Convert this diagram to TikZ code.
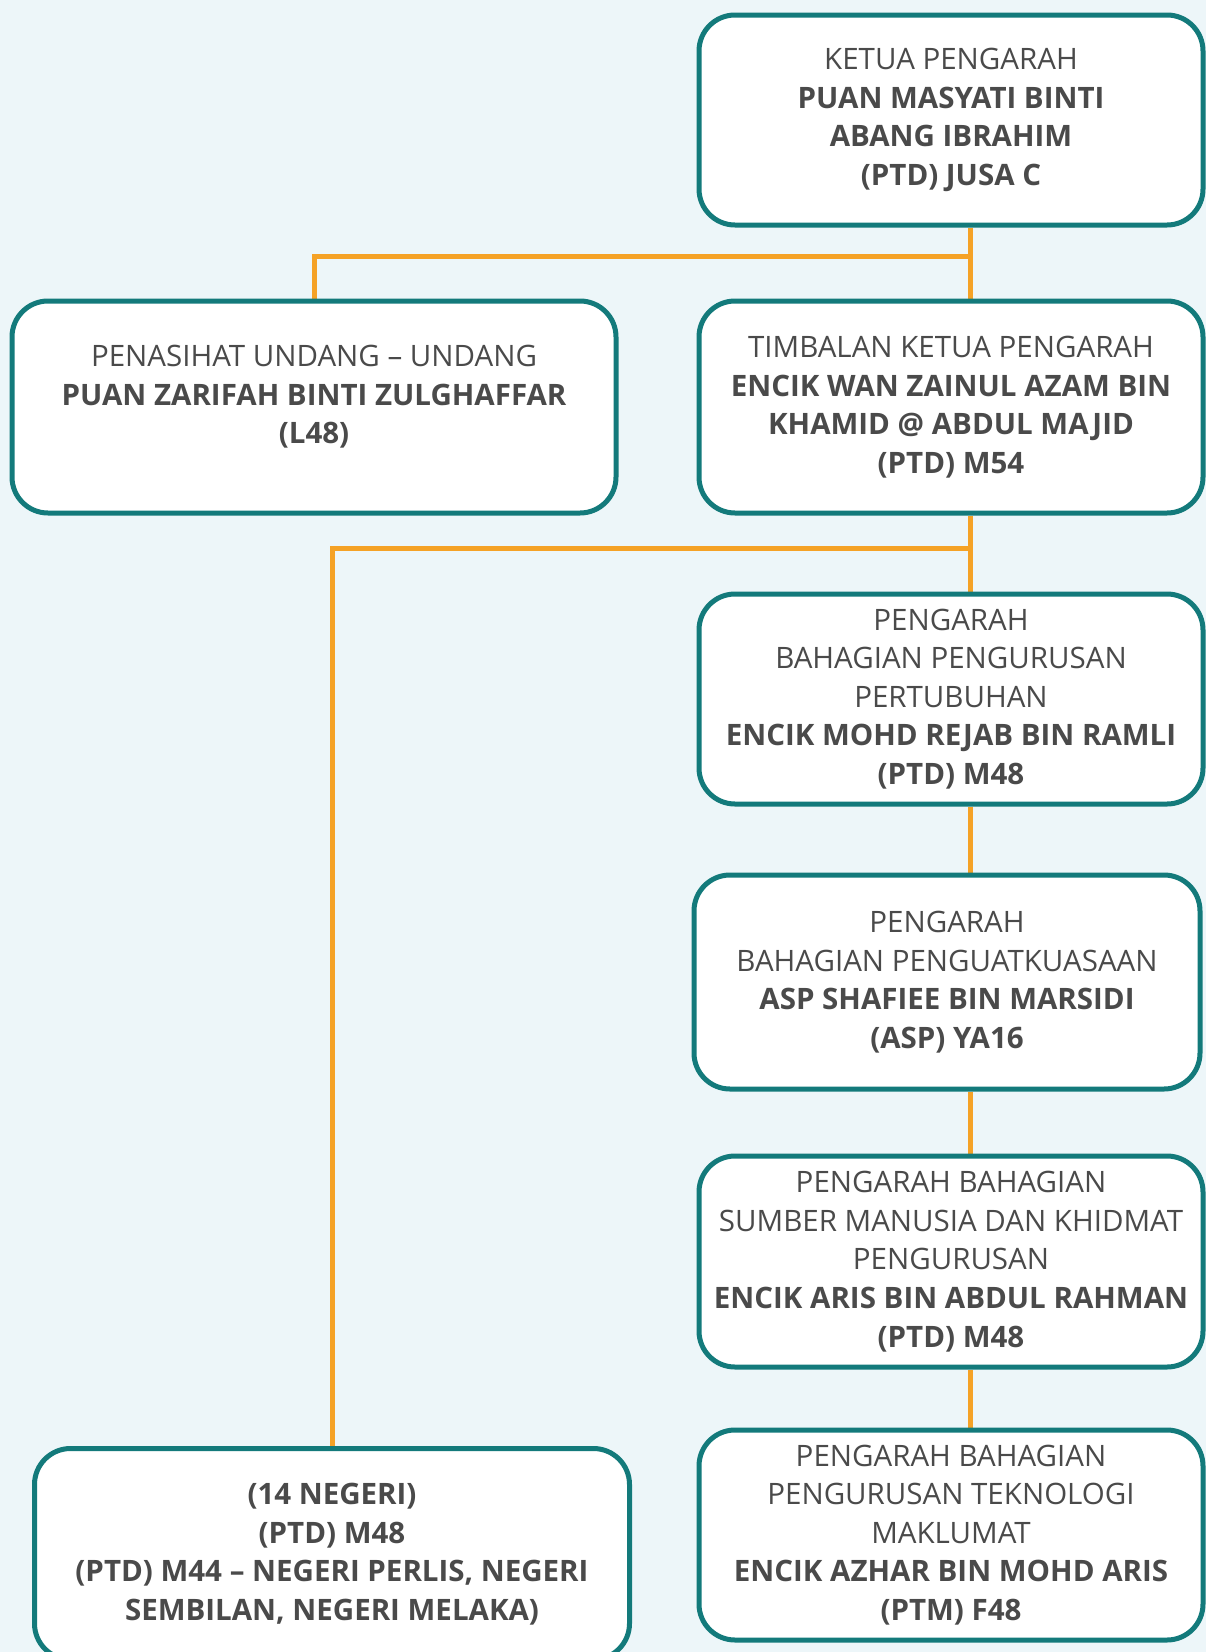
\documentclass[tikz,border=0pt]{standalone}
\usepackage{fontspec}
\setmainfont{Open Sans}
\usetikzlibrary{backgrounds}
\definecolor{bgblue}{HTML}{EDF6F9}
\definecolor{boxteal}{HTML}{137A7B}
\definecolor{lineorange}{HTML}{F5A226}
\definecolor{txtgray}{HTML}{4A4A4A}

\begin{document}
\begin{tikzpicture}[x=1pt,y=-1pt,
  post/.style={draw=boxteal,line width=5pt,fill=white,rounded corners=36pt,
    minimum width=504pt,minimum height=210pt,align=center,text=txtgray,
    inner sep=0pt,font=\fontsize{29.5}{38.6}\selectfont},
  link/.style={draw=lineorange,line width=5pt}]
\useasboundingbox (0,0) rectangle (1206,1652);

% Boxes
\node[post] (kp) at (951,120) {KETUA PENGARAH\\\textbf{PUAN MASYATI BINTI}\\\textbf{ABANG IBRAHIM}\\\textbf{(PTD) JUSA C}};
\node[post,minimum width=604pt,minimum height=212pt,text depth=25pt] (pen) at (314,407) {PENASIHAT UNDANG – UNDANG\\\textbf{PUAN ZARIFAH BINTI ZULGHAFFAR}\\\textbf{(L48)}};
\node[post,minimum height=212pt] (tkp) at (951,407) {TIMBALAN KETUA PENGARAH\\\textbf{ENCIK WAN ZAINUL AZAM BIN}\\\textbf{KHAMID @ ABDUL MAJID}\\\textbf{(PTD) M54}};
\node[post] (bpp) at (951,699) {PENGARAH\\BAHAGIAN PENGURUSAN\\PERTUBUHAN\\\textbf{ENCIK MOHD REJAB BIN RAMLI}\\\textbf{(PTD) M48}};
\node[post,minimum width=506pt,minimum height=214pt] (bpk) at (947,982) {PENGARAH\\BAHAGIAN PENGUATKUASAAN\\\textbf{ASP SHAFIEE BIN MARSIDI}\\\textbf{(ASP) YA16}};
\node[post,minimum height=211pt] (smk) at (951,1261.5) {PENGARAH BAHAGIAN\\SUMBER MANUSIA DAN KHIDMAT\\PENGURUSAN\\\textbf{ENCIK ARIS BIN ABDUL RAHMAN}\\\textbf{(PTD) M48}};
\node[post] (ptm) at (951,1535) {PENGARAH BAHAGIAN\\PENGURUSAN TEKNOLOGI\\MAKLUMAT\\\textbf{ENCIK AZHAR BIN MOHD ARIS}\\\textbf{(PTM) F48}};
\node[post,minimum width=595pt,minimum height=211pt] (neg) at (332,1554) {\textbf{(14 NEGERI)}\\\textbf{(PTD) M48}\\\textbf{(PTD) M44 – NEGERI PERLIS, NEGERI}\\\textbf{SEMBILAN, NEGERI MELAKA)}};

% Junctions
\coordinate (j1) at (970,256);
\coordinate (j2) at (970,548.5);

% Connectors
\begin{scope}[on background layer]
\fill[bgblue] (0,0) rectangle (1206,1652);
\draw[link] (kp.south -| j1) -- (tkp.north -| j1);
\draw[link] (pen.north) |- (j1);
\draw[link] (tkp.south -| j2) -- (bpp.north -| j2);
\draw[link] (neg.north) |- (j2);
\draw[link] (bpp.south -| j1) -- (bpk.north -| j1);
\draw[link] (bpk.south -| j1) -- (smk.north -| j1);
\draw[link] (smk.south -| j1) -- (ptm.north -| j1);
\end{scope}
\end{tikzpicture}
\end{document}
